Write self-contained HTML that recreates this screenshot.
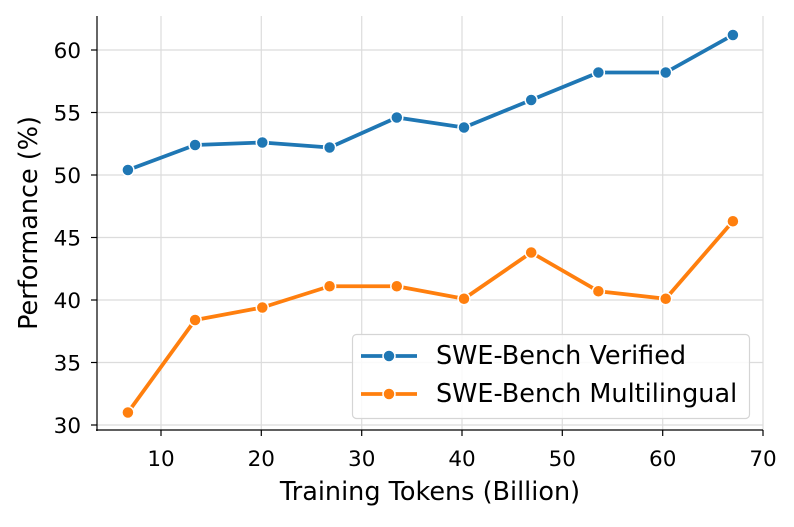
<!DOCTYPE html>
<html><head><style>body{margin:0;background:#fff}</style></head><body>
<svg width="794" height="522" xmlns="http://www.w3.org/2000/svg" font-family="DejaVu Sans, sans-serif">
<g stroke="#dcdcdc" stroke-width="1.2">
<line x1="161" y1="16" x2="161" y2="430"/><line x1="261.3" y1="16" x2="261.3" y2="430"/><line x1="361.7" y1="16" x2="361.7" y2="430"/><line x1="462" y1="16" x2="462" y2="430"/><line x1="562.3" y1="16" x2="562.3" y2="430"/><line x1="662.7" y1="16" x2="662.7" y2="430"/><line x1="763" y1="16" x2="763" y2="430"/>
<line x1="97" y1="50" x2="763" y2="50"/><line x1="97" y1="112.5" x2="763" y2="112.5"/><line x1="97" y1="175" x2="763" y2="175"/><line x1="97" y1="237.5" x2="763" y2="237.5"/><line x1="97" y1="300" x2="763" y2="300"/><line x1="97" y1="362.5" x2="763" y2="362.5"/><line x1="97" y1="425" x2="763" y2="425"/>
</g>
<g stroke="#000" stroke-width="1.2">
<line x1="97" y1="16" x2="97" y2="431"/><line x1="96" y1="430" x2="763" y2="430"/>
<line x1="161" y1="430" x2="161" y2="436"/><line x1="261.3" y1="430" x2="261.3" y2="436"/><line x1="361.7" y1="430" x2="361.7" y2="436"/><line x1="462" y1="430" x2="462" y2="436"/><line x1="562.3" y1="430" x2="562.3" y2="436"/><line x1="662.7" y1="430" x2="662.7" y2="436"/><line x1="763" y1="430" x2="763" y2="436"/>
<line x1="91" y1="50" x2="97" y2="50"/><line x1="91" y1="112.5" x2="97" y2="112.5"/><line x1="91" y1="175" x2="97" y2="175"/><line x1="91" y1="237.5" x2="97" y2="237.5"/><line x1="91" y1="300" x2="97" y2="300"/><line x1="91" y1="362.5" x2="97" y2="362.5"/><line x1="91" y1="425" x2="97" y2="425"/>
</g>
<g font-size="21.5" fill="#000" text-anchor="middle">
<text x="161" y="466">10</text><text x="261.3" y="466">20</text><text x="361.7" y="466">30</text><text x="462" y="466">40</text><text x="562.3" y="466">50</text><text x="662.7" y="466">60</text><text x="763" y="466">70</text>
</g>
<g font-size="21.5" fill="#000" text-anchor="end">
<text x="81" y="58">60</text><text x="81" y="120.5">55</text><text x="81" y="183">50</text><text x="81" y="245.5">45</text><text x="81" y="308">40</text><text x="81" y="370.5">35</text><text x="81" y="433">30</text>
</g>
<text x="430" y="500" font-size="25.5" text-anchor="middle">Training Tokens (Billion)</text>
<text transform="translate(37,223) rotate(-90)" font-size="25.5" text-anchor="middle">Performance (%)</text>
<polyline fill="none" stroke="#1f77b4" stroke-width="3.8" stroke-linejoin="round" points="127.9,170 195.1,145 262.3,142.5 329.6,147.5 396.8,117.5 464,127.5 531.2,100 598.4,72.5 665.7,72.5 732.9,35"/>
<g fill="#1f77b4" stroke="#fff" stroke-width="1.5">
<circle cx="127.9" cy="170" r="6"/><circle cx="195.1" cy="145" r="6"/><circle cx="262.3" cy="142.5" r="6"/><circle cx="329.6" cy="147.5" r="6"/><circle cx="396.8" cy="117.5" r="6"/><circle cx="464" cy="127.5" r="6"/><circle cx="531.2" cy="100" r="6"/><circle cx="598.4" cy="72.5" r="6"/><circle cx="665.7" cy="72.5" r="6"/><circle cx="732.9" cy="35" r="6"/>
</g>
<polyline fill="none" stroke="#ff7f0e" stroke-width="3.8" stroke-linejoin="round" points="127.9,412.5 195.1,320 262.3,307.5 329.6,286.25 396.8,286.25 464,298.75 531.2,252.5 598.4,291.25 665.7,298.75 732.9,221.25"/>
<g fill="#ff7f0e" stroke="#fff" stroke-width="1.5">
<circle cx="127.9" cy="412.5" r="6"/><circle cx="195.1" cy="320" r="6"/><circle cx="262.3" cy="307.5" r="6"/><circle cx="329.6" cy="286.25" r="6"/><circle cx="396.8" cy="286.25" r="6"/><circle cx="464" cy="298.75" r="6"/><circle cx="531.2" cy="252.5" r="6"/><circle cx="598.4" cy="291.25" r="6"/><circle cx="665.7" cy="298.75" r="6"/><circle cx="732.9" cy="221.25" r="6"/>
</g>
<rect x="352.5" y="334.5" width="397" height="84" rx="4" fill="#fff" fill-opacity="0.85" stroke="#d5d5d5" stroke-width="1.2"/>
<line x1="361" y1="356" x2="417" y2="356" stroke="#1f77b4" stroke-width="3.8"/><circle cx="389" cy="356" r="6" fill="#1f77b4" stroke="#fff" stroke-width="1.5"/>
<line x1="361" y1="394" x2="417" y2="394" stroke="#ff7f0e" stroke-width="3.8"/><circle cx="389" cy="394" r="6" fill="#ff7f0e" stroke="#fff" stroke-width="1.5"/>
<text x="436" y="364" font-size="25.5">SWE-Bench Verified</text>
<text x="436" y="402" font-size="25.5">SWE-Bench Multilingual</text>
</svg>
</body></html>
